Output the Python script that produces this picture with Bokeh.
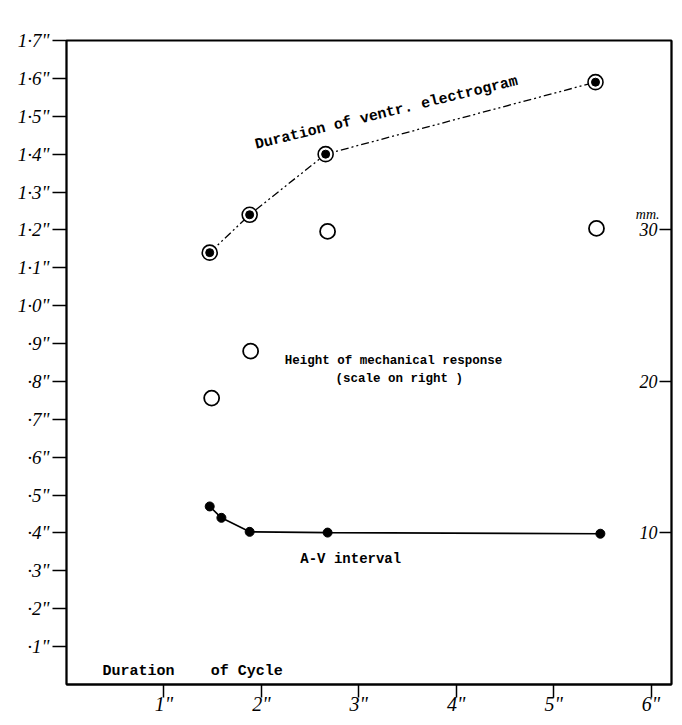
from bokeh.plotting import figure
from bokeh.models import Range1d, LinearAxis, FixedTicker
from bokeh.embed import file_html
from bokeh.resources import INLINE
from bokeh.core.properties import value

# ---- data ----
cycle_ecg = [1.47, 1.88, 2.66, 5.43]          # duration of cycle (sec)
ecg_duration = [1.14, 1.24, 1.40, 1.59]       # duration of ventr. electrogram (sec)

cycle_mech = [1.49, 1.89, 2.68, 5.44]
mech_height_mm = [18.9, 22.0, 29.9, 30.1]     # height of mechanical response (mm, right scale)

cycle_av = [1.47, 1.59, 1.88, 2.68, 5.48]
av_interval = [0.47, 0.44, 0.403, 0.401, 0.398]   # A-V interval (sec)

x_ticks = [1, 2, 3, 4, 5, 6]
x_tick_labels = ['1"', '2"', '3"', '4"', '5"', '6"']
y_ticks = [0.1, 0.2, 0.3, 0.4, 0.5, 0.6, 0.7, 0.8, 0.9, 1.0,
           1.1, 1.2, 1.3, 1.4, 1.5, 1.6, 1.7]
y_tick_labels = ['·1"', '·2"', '·3"', '·4"', '·5"', '·6"', '·7"', '·8"', '·9"', '1·0"',
                 '1·1"', '1·2"', '1·3"', '1·4"', '1·5"', '1·6"', '1·7"']
mm_ticks = [10, 20, 30]
mm_tick_labels = ["10", "20", "30"]

X_MAX = 6.21
Y_MAX = 1.7
MM_MAX = 42.5

hand_font = value("Liberation Serif")
type_font = value("Liberation Mono")

p = figure(width=675, height=719, output_backend="svg", toolbar_location=None,
           x_range=Range1d(0, X_MAX), y_range=Range1d(0, Y_MAX),
           min_border_left=66, min_border_right=4, min_border_top=40, min_border_bottom=35,
           background_fill_color="white", border_fill_color="white")
p.extra_y_ranges = {"mm": Range1d(0, MM_MAX)}
p.xgrid.grid_line_color = None
p.ygrid.grid_line_color = None
p.outline_line_color = "black"
p.outline_line_width = 1.8

# bottom axis
xa = p.xaxis[0]
xa.ticker = FixedTicker(ticks=x_ticks)
xa.major_label_overrides = {t: l for t, l in zip(x_ticks, x_tick_labels)}
xa.minor_tick_line_color = None
xa.major_tick_in = 0
xa.major_tick_out = 13
xa.axis_line_width = 1.8
xa.axis_line_color = "black"
xa.major_tick_line_color = "black"
xa.major_tick_line_width = 1.5
xa.major_label_text_color = "black"
xa.major_label_text_font = "Liberation Serif"
xa.major_label_text_font_style = "italic"
xa.major_label_text_font_size = "20px"
xa.major_label_standoff = -5

# left axis
ya = p.yaxis[0]
ya.ticker = FixedTicker(ticks=y_ticks)
ya.major_label_overrides = {t: l for t, l in zip(y_ticks, y_tick_labels)}
ya.minor_tick_line_color = None
ya.major_tick_in = 0
ya.major_tick_out = 14
ya.axis_line_width = 1.8
ya.axis_line_color = "black"
ya.major_tick_line_color = "black"
ya.major_tick_line_width = 1.5
ya.major_label_text_color = "black"
ya.major_label_text_font = "Liberation Serif"
ya.major_label_text_font_style = "italic"
ya.major_label_text_font_size = "19px"
ya.major_label_standoff = 3

# right axis (mm), ticks pointing inward, labels drawn inside
ra = LinearAxis(y_range_name="mm", ticker=FixedTicker(ticks=mm_ticks),
                major_label_overrides={t: "" for t in mm_ticks})
ra.minor_tick_line_color = None
ra.major_tick_in = 12
ra.major_tick_out = 0
ra.axis_line_width = 1.8
ra.axis_line_color = "black"
ra.major_tick_line_color = "black"
ra.major_tick_line_width = 1.5
p.add_layout(ra, "right")

p.text(x=[X_MAX] * len(mm_ticks), y=mm_ticks, text=mm_tick_labels, y_range_name="mm",
       x_offset=-14, text_align="right", text_baseline="middle",
       text_font=hand_font, text_font_style="italic", text_font_size="18px", text_color="black")
p.text(x=[X_MAX], y=[mm_ticks[-1]], text=["mm."], y_range_name="mm",
       x_offset=-12, y_offset=-15, text_align="right", text_baseline="middle",
       text_font=hand_font, text_font_style="italic", text_font_size="14px", text_color="black")

# duration of ventricular electrogram: dash-dot-dot line, bullseye markers
p.line(cycle_ecg, ecg_duration, line_color="black", line_width=1.3, line_dash="8 3 2 3 2 3")
p.scatter(cycle_ecg, ecg_duration, marker="circle", size=15, fill_color="white",
          line_color="black", line_width=1.6)
p.scatter(cycle_ecg, ecg_duration, marker="circle", size=8, fill_color="black", line_color="black")

# height of mechanical response (right scale): open circles
p.scatter(cycle_mech, mech_height_mm, y_range_name="mm", marker="circle", size=15,
          fill_color="white", line_color="black", line_width=1.8)

# A-V interval: solid line with filled dots
p.line(cycle_av, av_interval, line_color="black", line_width=1.6)
p.scatter(cycle_av, av_interval, marker="circle", size=9, fill_color="black", line_color="black")

# annotations (typewritten)
p.text(x=[1.94], y=[1.423], text=["Duration of ventr. electrogram"], angle=0.24,
       text_align="left", text_baseline="alphabetic", text_font=type_font,
       text_font_style="bold", text_font_size="15px", text_color="black")
p.text(x=[2.24], y=[0.854], text=["Height of mechanical response"],
       text_align="left", text_baseline="alphabetic", text_font=type_font,
       text_font_style="bold", text_font_size="12.5px", text_color="black")
p.text(x=[2.76], y=[0.807], text=["(scale on right )"],
       text_align="left", text_baseline="alphabetic", text_font=type_font,
       text_font_style="bold", text_font_size="12.5px", text_color="black")
p.text(x=[2.40], y=[0.330], text=["A-V interval"],
       text_align="left", text_baseline="alphabetic", text_font=type_font,
       text_font_style="bold", text_font_size="14px", text_color="black")
p.text(x=[0.37], y=[0.035], text=["Duration"],
       text_align="left", text_baseline="alphabetic", text_font=type_font,
       text_font_style="bold", text_font_size="15px", text_color="black")
p.text(x=[1.48], y=[0.035], text=["of Cycle"],
       text_align="left", text_baseline="alphabetic", text_font=type_font,
       text_font_style="bold", text_font_size="15px", text_color="black")

open("out.html", "w").write(file_html(p, INLINE))
